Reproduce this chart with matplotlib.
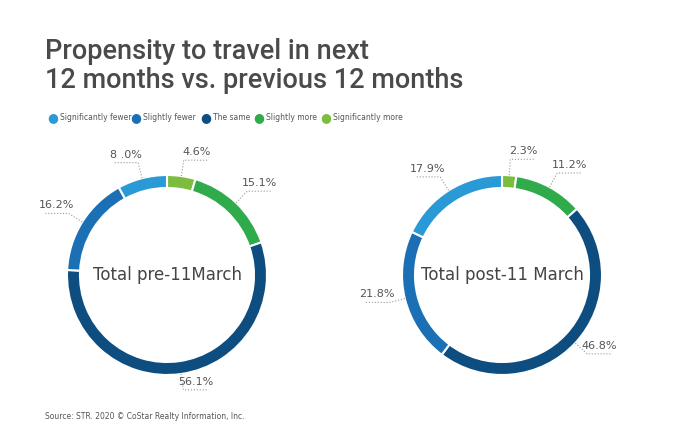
import numpy as np
import matplotlib.pyplot as plt

categories = ["Significantly fewer", "Slightly fewer", "The same", "Slightly more", "Significantly more"]
colors = ["#2a9ad6", "#1a6fb5", "#0d4d80", "#2fab4b", "#7cbc3f"]
pre_values = [8.0, 16.2, 56.1, 15.1, 4.6]
post_values = [17.9, 21.8, 46.8, 11.2, 2.3]
pre_labels = ["8 .0%", "16.2%", "56.1%", "15.1%", "4.6%"]
post_labels = ["17.9%", "21.8%", "46.8%", "11.2%", "2.3%"]

fig = plt.figure(figsize=(7, 4.43), dpi=100)
fig.text(0.064, 0.915, "Propensity to travel in next\n12 months vs. previous 12 months",
         fontsize=19.5, color="#4a4a4a", family="Roboto", fontweight="medium",
         va="top", linespacing=1.1)

# legend row
lx = [52, 135, 205, 258, 325]
for x, c, name in zip(lx, colors, categories):
    fig.text((x - 5) / 700, 0.735, "\u25CF", color=c, fontsize=9, va="center")
    fig.text((x + 8) / 700, 0.735, name, color="#555555", fontsize=5.5, va="center")


def donut(cx, cy, values, labels, title):
    s = 260
    ax = fig.add_axes([(cx - s / 2) / 700, (cy - s / 2) / 443, s / 700, s / 443])
    # clockwise from the top: reversed order
    vals = values[::-1]
    cols = colors[::-1]
    labs = labels[::-1]
    wedges, _ = ax.pie(vals, colors=cols, startangle=90, counterclock=False,
                       radius=1.0, wedgeprops=dict(width=0.13, edgecolor="white", linewidth=1.5))
    ax.set_xlim(-1.3, 1.3)
    ax.set_ylim(-1.3, 1.3)
    ax.set_aspect("equal")
    ax.axis("off")
    for w, lab in zip(wedges, labs):
        ang = np.deg2rad((w.theta1 + w.theta2) / 2)
        x0, y0 = np.cos(ang) * 1.0, np.sin(ang) * 1.0
        x1, y1 = np.cos(ang) * 1.16, np.sin(ang) * 1.16
        sign = 1 if x1 >= 0 else -1
        x2 = x1 + sign * 0.25
        ax.plot([x0, x1, x2], [y0, y1, y1], ls=":", color="#999999", lw=0.8, clip_on=False)
        ax.text((x1 + x2) / 2, y1 + 0.03, lab, ha="center", va="bottom",
                fontsize=8, color="#555555")
    ax.text(0, 0, title, ha="center", va="center", fontsize=12, color="#444444")


donut(167, 168, pre_values, pre_labels, "Total pre-11March")
donut(502, 168, post_values, post_labels, "Total post-11 March")

fig.text(0.064, 0.055, "Source: STR. 2020 \u00A9 CoStar Realty Information, Inc.",
         fontsize=5.5, color="#555555")

fig.savefig("out.png", dpi=100)
